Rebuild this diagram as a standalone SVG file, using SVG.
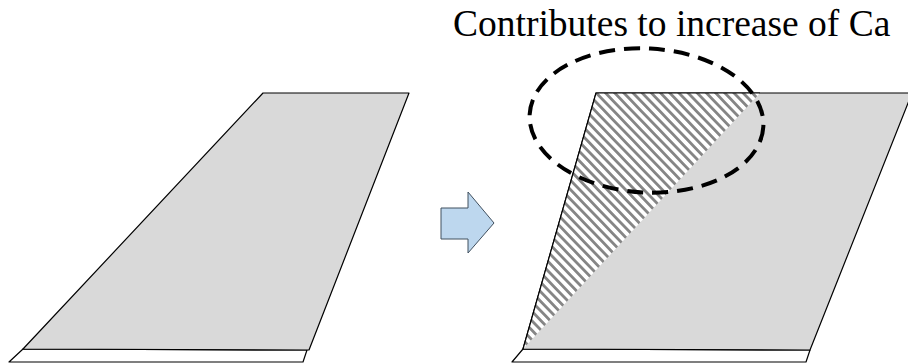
<svg xmlns="http://www.w3.org/2000/svg" width="908" height="364" viewBox="0 0 908 364">
  <style>
    .wing { fill: #D9D9D9; stroke: #000; stroke-width: 1.2; stroke-linejoin: round; }
    .strip { fill: #FFFFFF; stroke: #000; stroke-width: 1.2; stroke-linejoin: round; }
    .hatch { fill: url(#hatch); stroke: none; }
    .edge { fill: none; stroke: #000; stroke-width: 1.2; }
    .label { font-family: "Liberation Serif", "Times New Roman", serif; font-size: 37.5px; fill: #000; }
    .zone { fill: none; stroke: #000; stroke-width: 4; stroke-dasharray: 16 9; }
    .bigarrow { fill: #BDD7EE; stroke: #41505F; stroke-width: 1; stroke-linejoin: miter; }
  </style>
  <defs>
    <pattern id="hatch" patternUnits="userSpaceOnUse" width="6.6" height="10" patternTransform="rotate(-44)">
      <rect x="0" y="0" width="6.6" height="10" fill="#FFFFFF"/>
      <rect x="0" y="0" width="2.8" height="10" fill="#858585"/>
    </pattern>
  </defs>

  <g id="wing-before">
    <polygon class="strip" points="23,349 307,350 303,362 9,362"/>
    <polygon class="wing" points="263,93 409,93 309,350 23,349"/>
  </g>

  <g id="transition-arrow">
    <polygon class="bigarrow" points="441,208 468,208 468,192 494,223 468,253 468,239 441,239"/>
  </g>

  <g id="wing-after">
    <polygon class="strip" points="523,349 810,350 806,362 512,362"/>
    <polygon class="wing" points="596,93 912,93 810,350 523,349"/>
    <polygon class="hatch" points="596,93 760,93 523,349"/>
    <polyline class="edge" points="760,93 596,93 523,349"/>
  </g>

  <g id="contribution-zone">
    <ellipse class="zone" cx="646.5" cy="120.5" rx="117" ry="72" transform="rotate(3 646.5 120.5)"/>
  </g>

  <g id="caption">
    <text class="label" x="453" y="36">Contributes to increase of Ca</text>
  </g>
</svg>
